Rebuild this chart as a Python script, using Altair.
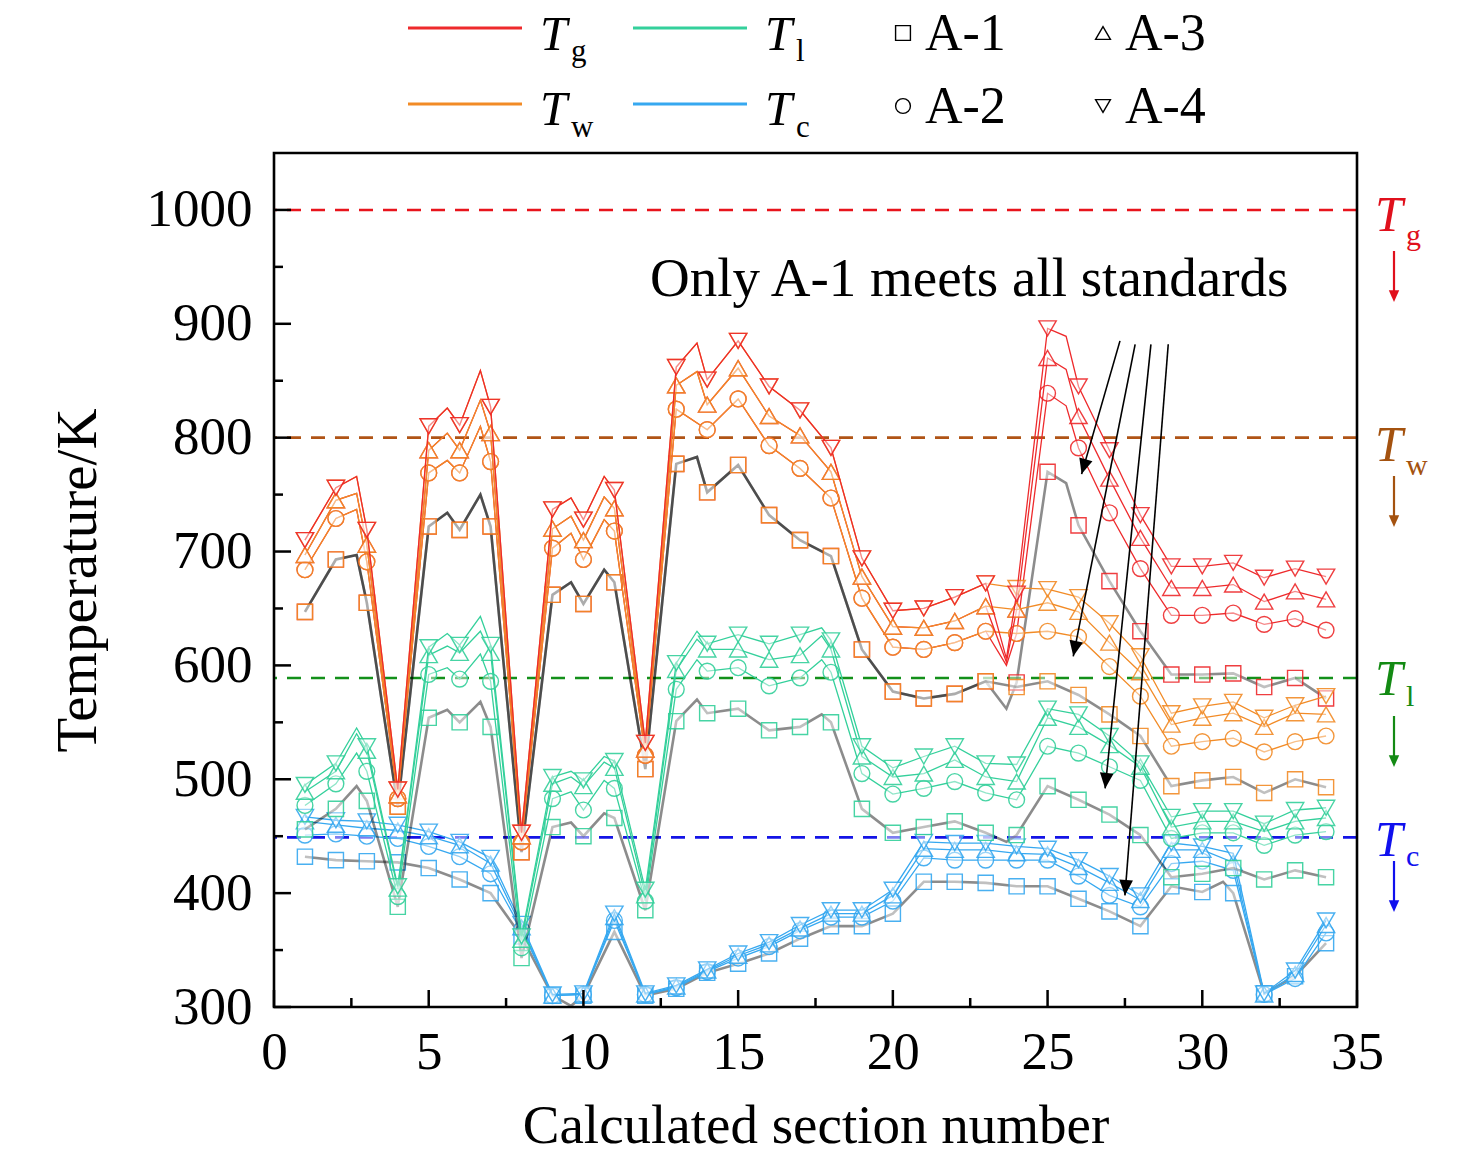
import math
import altair as alt
import pandas as pd

N = None

# calculated section positions used by the plotted curves (markers sit on integers)
SECTION = [1, 2, 2.67, 3, 4, 5, 5.6, 6, 6.67, 7,
           8, 9, 9.6, 10, 10.67, 11, 12,
           13, 13.67, 14, 15, 16, 17, 17.7, 18, 19,
           20, 21, 22, 23, 23.67, 24,
           25, 25.6, 26, 27, 28, 29, 30, 30.67, 31, 32, 33, 34]

# ---- T_w (wall) ----
TW_A1 = [647, 693, 697, 655, 476, 722, 734, 719, 750, 722,
         436, 662, 673, 654, 684, 673, 509,
         777, 783, 752, 776, 732, 710, N, 696, 614,
         577, 571, 575, 586, N, 581,
         586, N, 574, 557, 538, 494, 499, N, 502, 488, 500, 493]
TW_A2 = [684, 729, 737, 691, 483, 769, 780, 769, 810, 779,
         445, 703, 716, 693, 728, 718, 521,
         825, N, 807, 834, 793, 773, N, 747, 659,
         616, 614, 620, 630, N, 628,
         630, N, 625, 599, 573, 529, 533, N, 536, 524, 533, 538]
TW_A3 = [697, 745, 751, 706, 486, 789, 804, 789, 833, 804,
         450, 720, 731, 710, 748, 738, 526,
         846, 858, 829, 861, 819, 802, N, 770, 678,
         634, 633, 639, 652, N, 649,
         655, N, 647, 620, 594, 548, 554, N, 558, 546, 558, 557]
TW_A4 = [710, 756, 766, 719, 491, 810, 826, 811, 859, 827,
         453, 737, 747, 728, 766, 754, 532,
         862, 883, 851, 885, 845, 824, N, 791, 694,
         648, 650, 660, 672, N, 668,
         667, N, 660, 637, 608, 558, 564, N, 568, 554, 565, 573]

# ---- T_g (gas) ----
TG_A1 = [647, 693, 697, 655, 476, 722, 734, 719, 750, 722,
         436, 662, 673, 654, 684, 673, 509,
         777, 783, 752, 776, 732, 710, N, 696, 614,
         577, 571, 575, 586, 562, 585,
         770, 760, 723, 674, 630, 592, 592, N, 593, 581, 589, 571]
TG_A2 = [684, 729, 737, 691, 483, 769, 780, 769, 810, 779,
         445, 703, 716, 693, 728, 718, 521,
         825, N, 807, 834, 793, 773, N, 747, 659,
         616, 614, 620, 630, 600, 628,
         839, 828, 791, 734, 685, 644, 644, N, 646, 636, 641, 631]
TG_A3 = [697, 745, 751, 706, 486, 789, 804, 789, 833, 804,
         450, 720, 731, 710, 748, 738, 526,
         846, 858, 829, 861, 819, 802, N, 770, 678,
         634, 633, 639, 652, 603, 649,
         870, 860, 819, 764, 712, 668, 668, N, 671, 656, 665, 658]
TG_A4 = [710, 756, 766, 719, 491, 810, 826, 811, 859, 827,
         453, 737, 747, 728, 766, 754, 532,
         862, 883, 851, 885, 845, 824, N, 791, 694,
         648, 650, 660, 672, 606, 663,
         896, 889, 845, 789, 732, 687, 687, N, 690, 677, 685, 678]

# ---- T_l (liner) ----
TL_A1 = [456, 474, 494, 481, 388, 554, 561, 550, 568, 546,
         343, 458, 462, 450, 470, 466, 385,
         551, 570, 558, 562, 543, 546, 557, 550, 474,
         453, 458, 463, 453, 445, 451,
         494, N, 482, 469, 451, 414, 417, N, 422, 412, 420, 414]
TL_A2 = [477, 496, 523, 507, 397, 592, 598, 588, 610, 586,
         352, 483, 489, 473, 499, 492, 393,
         579, 605, 595, 598, 582, 589, 605, 594, 505,
         487, 492, 498, 488, N, 482,
         529, N, 523, 511, 499, 448, 453, N, 453, 442, 451, 454]
TL_A3 = [489, 507, 540, 525, 404, 609, 617, 611, 630, 611,
         359, 496, 502, 494, 515, 510, 398,
         596, 623, 614, 614, 605, 609, 626, 614, 520,
         502, 505, 517, 502, N, 498,
         554, N, 546, 530, 511, 458, 463, N, 463, 454, 463, 466]
TL_A4 = [495, 514, 545, 529, 406, 616, 628, 618, 643, 618,
         362, 502, 507, 499, 520, 516, 403,
         602, 630, 619, 627, 619, 627, 633, 622, 529,
         510, 520, 529, 514, N, 513,
         562, N, 557, 538, 514, 467, 472, N, 472, 461, 473, 475]

# ---- T_c (coolant) ----
TC_A1 = [432, 429, N, 428, 427, 422, N, 412, N, 400,
         362, 310, 301, 310, N, 366, 310,
         316, N, 330, 338, 347, 360, N, 371, 371,
         382, 410, 410, 409, N, 406,
         406, N, 395, 384, 371, 406, 401, 410, 400, 312, 327, 356]
TC_A2 = [451, 452, N, 450, 448, 441, N, 432, N, 417,
         368, 310, N, 311, N, 376, 311,
         317, N, 331, 343, 353, 367, N, 379, 379,
         393, 431, 429, 429, N, 429,
         429, N, 415, 398, 388, 426, 428, N, 420, 311, 325, 365]
TC_A3 = [463, 460, N, 457, 455, 450, N, 442, N, 426,
         370, 310, N, 311, N, 379, 311,
         318, N, 332, 345, 355, 369, N, 382, 382,
         398, 439, 438, 438, N, 435,
         434, N, 423, 409, 394, 438, 438, N, 427, 311, 329, 372]
TC_A4 = [467, 464, N, 463, 460, 454, N, 445, N, 431,
         373, 311, N, 312, N, 382, 312,
         319, N, 333, 347, 357, 372, N, 385, 385,
         403, 445, 444, 444, N, 441,
         439, N, 429, 415, 398, 444, 441, N, 435, 312, 332, 376]

# limits
LIMIT_NAMES = ["g", "w", "l", "c"]
LIMIT_VALUES = [1000, 800, 589, 449]

# annotation arrows (section, temperature)
ARROW_S0 = [27.34, 27.83, 28.34, 28.90]
ARROW_T0 = [885, 882, 882, 882]
ARROW_S1 = [26.10, 25.83, 26.86, 27.50]
ARROW_T1 = [768, 608, 492, 398]

X_MAJOR = [0, 5, 10, 15, 20, 25, 30, 35]
X_MINOR = [2.5, 7.5, 12.5, 17.5, 22.5, 27.5, 32.5]
Y_MAJOR = [300, 400, 500, 600, 700, 800, 900, 1000]
Y_MINOR = [350, 450, 550, 650, 750, 850, 950]

# ------------------------------------------------------------------
FONT = "Liberation Serif"
W, H = 1083, 854
COL = {"g": "#ee2a2c", "w": "#f28b26", "l": "#34d09b", "c": "#36a8f0"}
LIM_COL = {"g": "#e8141c", "w": "#b05416", "l": "#13901a", "c": "#1414e6"}
LABEL_COL = {"g": "#e0101c", "w": "#a4520f", "l": "#138a13", "c": "#1010ee"}
SHAPE = {"A-1": "square", "A-2": "circle", "A-3": "triangle-up", "A-4": "triangle-down"}
MSIZE = {"A-1": 230, "A-2": 250, "A-3": 300, "A-4": 300}
ARROW_PATH = "M0,0L-0.6,-1.35L0.6,-1.35Z"

XS = alt.Scale(domain=[0, 35], nice=False, zero=False)
YS = alt.Scale(domain=[300, 1050], nice=False, zero=False)
XAX = alt.Axis(values=X_MAJOR, ticks=False, domain=False, grid=False, format="d",
               labelFont=FONT, labelFontSize=53, labelColor="black", labelPadding=19,
               labelFlush=False, titleFont=FONT, titleFontSize=55, titleFontWeight="normal",
               titleColor="black", titlePadding=20)
YAX = alt.Axis(values=Y_MAJOR, ticks=False, domain=False, grid=False, format="d",
               labelFont=FONT, labelFontSize=53, labelColor="black", labelPadding=22,
               labelFlush=False, titleFont=FONT, titleFontSize=57, titleFontWeight="normal",
               titleColor="black", titlePadding=39)


def xe(field="s"):
    return alt.X(f"{field}:Q", scale=XS, axis=XAX, title="Calculated section number")


def ye(field="T"):
    return alt.Y(f"{field}:Q", scale=YS, axis=YAX, title="Temperature/K")


ONE = pd.DataFrame({"k": [0]})
layers = []

# limit dashed lines
for nm, val in zip(LIMIT_NAMES, LIMIT_VALUES):
    layers.append(alt.Chart(pd.DataFrame({"T": [val]})).mark_rule(
        color=LIM_COL[nm], strokeWidth=2.6, strokeDash=[14, 10]).encode(y=ye()))

# series (drawing order chosen so the visible colours match the figure)
SERIES = [
    ("c", "A-1", TC_A1), ("c", "A-2", TC_A2), ("c", "A-3", TC_A3), ("c", "A-4", TC_A4),
    ("l", "A-1", TL_A1), ("l", "A-2", TL_A2), ("l", "A-3", TL_A3), ("l", "A-4", TL_A4),
    ("g", "A-1", TG_A1), ("w", "A-1", TW_A1),
    ("g", "A-2", TG_A2), ("w", "A-2", TW_A2),
    ("g", "A-3", TG_A3), ("w", "A-3", TW_A3),
    ("w", "A-4", TW_A4), ("g", "A-4", TG_A4),
]
for var, case, vals in SERIES:
    rows = [(s, v) for s, v in zip(SECTION, vals) if v is not None]
    df = pd.DataFrame(rows, columns=["s", "T"])
    if case == "A-1":
        ln = alt.Chart(df).mark_line(color="black", opacity=0.45, strokeWidth=2.6)
    else:
        ln = alt.Chart(df).mark_line(color=COL[var], strokeWidth=1.3)
    layers.append(ln.encode(x=xe(), y=ye()))
    pts = df[df["s"] == df["s"].round()]
    layers.append(alt.Chart(pts).mark_point(
        shape=SHAPE[case], size=MSIZE[case], filled=True, fill="white", fillOpacity=0.5,
        stroke=COL[var], strokeWidth=1.4, opacity=0.9).encode(x=xe(), y=ye()))

# inward ticks
layers.append(alt.Chart(pd.DataFrame({"T": Y_MAJOR})).mark_rule(color="black", strokeWidth=2.5)
              .encode(y=ye(), x=alt.value(0), x2=alt.value(17)))
layers.append(alt.Chart(pd.DataFrame({"T": Y_MINOR})).mark_rule(color="black", strokeWidth=2.5)
              .encode(y=ye(), x=alt.value(0), x2=alt.value(9)))
layers.append(alt.Chart(pd.DataFrame({"s": X_MAJOR})).mark_rule(color="black", strokeWidth=2.5)
              .encode(x=xe(), y=alt.value(H), y2=alt.value(H - 17)))
layers.append(alt.Chart(pd.DataFrame({"s": X_MINOR})).mark_rule(color="black", strokeWidth=2.5)
              .encode(x=xe(), y=alt.value(H), y2=alt.value(H - 9)))

# plot frame
layers.append(alt.Chart(ONE).mark_rect(fill=None, stroke="black", strokeWidth=2.6).encode(
    x=alt.value(0), x2=alt.value(W), y=alt.value(0), y2=alt.value(H)))

# annotation text and arrows
layers.append(alt.Chart(pd.DataFrame({"s": [12.15], "T": [924]})).mark_text(
    text="Only A-1 meets all standards", font=FONT, fontSize=55, align="left",
    baseline="alphabetic", color="black").encode(x=xe(), y=ye()))
arr = pd.DataFrame({"s": ARROW_S0, "T": ARROW_T0, "s2": ARROW_S1, "T2": ARROW_T1})
arr["ang"] = [math.degrees(math.atan2(-(a1 - a0) * W / 35, (b0 - b1) * H / 750))
              for a0, b0, a1, b1 in zip(ARROW_S0, ARROW_T0, ARROW_S1, ARROW_T1)]
layers.append(alt.Chart(arr).mark_rule(color="black", strokeWidth=1.6).encode(
    x=xe(), y=ye(), x2="s2:Q", y2="T2:Q"))
layers.append(alt.Chart(arr).mark_point(shape=ARROW_PATH, filled=True, color="black",
                                         size=520, opacity=1).encode(
    x=xe("s2"), y=ye("T2"), angle=alt.Angle("ang:Q", scale=None)))


def txt(t, x, y, size, color="black", italic=False):
    kw = dict(text=t, font=FONT, fontSize=size, align="left", baseline="alphabetic", color=color)
    if italic:
        kw["fontStyle"] = "italic"
    return alt.Chart(ONE).mark_text(**kw).encode(x=alt.value(x), y=alt.value(y))


# right-hand limit labels (pixel layout relative to plot origin)
RIGHT = {"g": (78, 92, 98), "w": (308, 322, 323), "l": (542, 553, 563), "c": (703, 713, 708)}
for nm in LIMIT_NAMES:
    tb, sb, a0 = RIGHT[nm]
    layers.append(txt("T", 1101, tb, 50, LABEL_COL[nm], True))
    layers.append(txt(nm, 1132, sb, 30, LABEL_COL[nm]))
    layers.append(alt.Chart(ONE).mark_rule(color=LABEL_COL[nm], strokeWidth=2.2).encode(
        x=alt.value(1120), y=alt.value(a0), y2=alt.value(a0 + 40)))
    layers.append(alt.Chart(ONE).mark_point(shape=ARROW_PATH, filled=True, color=LABEL_COL[nm],
                                            size=300, opacity=1).encode(
        x=alt.value(1120), y=alt.value(a0 + 51)))

# legend (pixel layout relative to plot origin)
LEG_ROWS = [(-125, -103, -92, -120, -103), (-49, -28, -16, -47, -30)]
for (ly, tb, sb, my, ab), (v1, v2), (c1, c2) in zip(
        LEG_ROWS, [("g", "l"), ("w", "c")], [("A-1", "A-3"), ("A-2", "A-4")]):
    for v, x0 in ((v1, 134), (v2, 359)):
        layers.append(alt.Chart(ONE).mark_rule(color=COL[v], strokeWidth=3).encode(
            x=alt.value(x0), x2=alt.value(x0 + 114), y=alt.value(ly)))
        layers.append(txt("T", x0 + 132, tb, 49, "black", True))
        layers.append(txt(v, x0 + 163, sb, 31))
    for c, x0 in ((c1, 629), (c2, 829)):
        layers.append(alt.Chart(ONE).mark_point(shape=SHAPE[c], size=220, filled=False,
                                                color="black", strokeWidth=1.4, opacity=1).encode(
            x=alt.value(x0), y=alt.value(my)))
        layers.append(txt(c, x0 + 22, ab, 52))

chart = alt.layer(*layers).properties(
    width=W, height=H,
    autosize=alt.AutoSizeParams(type="none"),
    padding={"left": 266, "top": 145, "right": 110, "bottom": 146},
).configure(background="white").configure_view(stroke=None)

chart.save("out.html", embed_options={"renderer": "svg", "actions": False})
